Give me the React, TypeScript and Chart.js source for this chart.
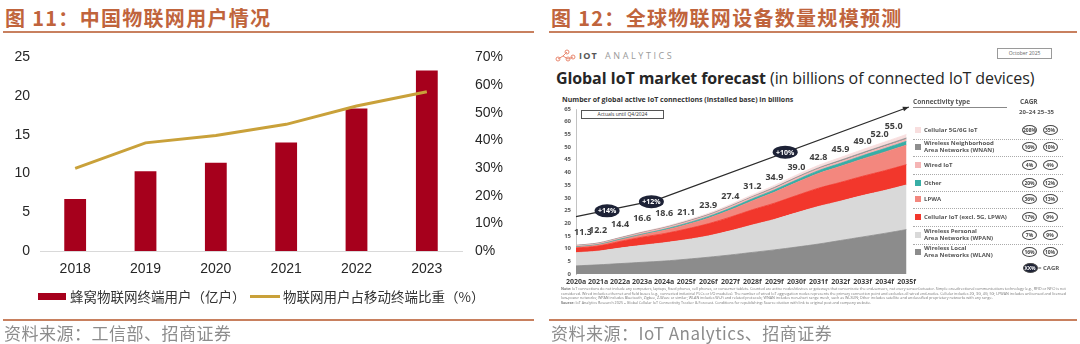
import React, { useEffect, useRef } from "react";
import { Chart, registerables } from "chart.js";

Chart.register(...registerables);

// ---------- Figure 11 data ----------
const years = ["2018", "2019", "2020", "2021", "2022", "2023"];
const cellularUsers = [6.7, 10.3, 11.4, 14.0, 18.4, 23.3];
const iotShare = [29.9, 39.1, 41.8, 45.8, 52.4, 57.6];
const barLegend = "蜂窝物联网终端用户（亿户）";
const lineLegend = "物联网用户占移动终端比重（%）";

// ---------- Figure 12 data ----------
const forecastYears = ["2020a", "2021a", "2022a", "2023a", "2024a", "2025f", "2026f", "2027f", "2028f", "2029f", "2030f", "2031f", "2032f", "2033f", "2034f", "2035f"];
const forecastTotals = [11.3, 12.2, 14.4, 16.6, 18.6, 21.1, 23.9, 27.4, 31.2, 34.9, 39.0, 42.8, 45.9, 49.0, 52.0, 55.0];
const wlan = [3.2, 3.6, 4.1, 4.6, 5.1, 5.8, 6.6, 7.5, 8.5, 9.5, 10.6, 11.8, 13.2, 14.6, 16.0, 17.5];
const wpan = [5.2, 5.4, 6.1, 6.7, 7.2, 7.7, 8.4, 9.5, 10.8, 12.0, 13.5, 14.8, 15.5, 16.3, 16.9, 17.6];
const cellularIot = [1.8, 2.0, 2.6, 3.2, 3.6, 4.2, 4.8, 5.4, 6.0, 6.4, 6.8, 7.2, 7.4, 7.6, 7.8, 8.0];
const lpwa = [0.3, 0.4, 0.6, 0.9, 1.3, 1.7, 2.2, 2.8, 3.5, 4.3, 5.1, 5.8, 6.3, 6.8, 7.3, 7.7];
const other = [0.2, 0.2, 0.3, 0.3, 0.4, 0.5, 0.6, 0.7, 0.8, 0.9, 1.0, 1.1, 1.2, 1.3, 1.4, 1.5];
const wired = [0.4, 0.4, 0.4, 0.5, 0.5, 0.5, 0.5, 0.6, 0.6, 0.6, 0.7, 0.7, 0.7, 0.7, 0.8, 0.8];
const wnan = [0.2, 0.2, 0.2, 0.2, 0.2, 0.3, 0.3, 0.3, 0.3, 0.4, 0.4, 0.4, 0.5, 0.5, 0.5, 0.5];
const cellular5g = [0.01, 0.03, 0.1, 0.2, 0.3, 0.4, 0.5, 0.6, 0.7, 0.8, 0.9, 1.0, 1.1, 1.2, 1.3, 1.4];
const trendPoints = [{ x: 0, y: 22.6 }, { x: 3.6, y: 29.0 }, { x: 15.1, y: 65.8 }];
const cagrBubbles = [
  { x: 1.41, y: 24.9, label: "+14%" },
  { x: 3.42, y: 28.5, label: "+12%" },
  { x: 9.49, y: 48.0, label: "+10%" },
];
const connectivityTypes = [
  "Cellular 5G/6G IoT",
  "Wireless Neighborhood\nArea Networks (WNAN)",
  "Wired IoT",
  "Other",
  "LPWA",
  "Cellular IoT (excl. 5G, LPWA)",
  "Wireless Personal\nArea Networks (WPAN)",
  "Wireless Local\nArea Networks (WLAN)",
];
const cagr2024 = ["208%", "16%", "4%", "20%", "36%", "17%", "7%", "16%"];
const cagr2535 = ["35%", "10%", "4%", "12%", "13%", "9%", "9%", "10%"];

// ---------- styles ----------
const RED = "#a6001c";
const GOLD = "#c9a13a";
const TITLE = "#c0643c";
const RULE = "#c8805f";
const typeColors = ["#f8dede", "#8e8e8e", "#f5b5b5", "#38aea6", "#f3877e", "#f2372c", "#d9d9d9", "#8c8c8c"];
const legendRowY = [130, 147, 165, 183, 199, 217, 235, 252];
const CJK = '"Noto Sans CJK SC", "Noto Sans", sans-serif';
const OS = '"Open Sans", "Noto Sans", sans-serif';

function LeftChart() {
  const ref = useRef<HTMLCanvasElement>(null);
  useEffect(() => {
    const chart = new Chart(ref.current!, {
      type: "bar",
      data: {
        labels: years,
        datasets: [
          {
            type: "line",
            label: lineLegend,
            data: iotShare,
            yAxisID: "y1",
            borderColor: GOLD,
            borderWidth: 3,
            pointRadius: 0,
            tension: 0,
            order: 0,
          } as any,
          {
            type: "bar",
            label: barLegend,
            data: cellularUsers,
            yAxisID: "y",
            backgroundColor: RED,
            barPercentage: 0.31,
            categoryPercentage: 1,
            order: 1,
          },
        ],
      },
      options: {
        responsive: false,
        animation: false,
        layout: { padding: { top: 12, left: 0, right: 0, bottom: 0 } },
        plugins: { legend: { display: false }, tooltip: { enabled: false } },
        scales: {
          x: {
            grid: { display: false, drawTicks: false },
            border: { color: "#d9d9d9", width: 1 },
            ticks: { padding: 10, color: "#262626", font: { family: '"Liberation Sans", Arial', size: 14 } },
            afterFit: (s: any) => { s.height = 37; },
          },
          y: {
            position: "left",
            min: 0,
            max: 25,
            grid: { display: false, drawTicks: false },
            border: { display: false },
            ticks: { stepSize: 5, padding: 10, color: "#262626", font: { family: '"Liberation Sans", Arial', size: 14 } },
            afterFit: (s: any) => { s.width = 40; },
          },
          y1: {
            position: "right",
            min: 0,
            max: 70,
            grid: { display: false, drawTicks: false },
            border: { display: false },
            ticks: {
              stepSize: 10,
              padding: 13,
              color: "#262626",
              font: { family: '"Liberation Sans", Arial', size: 14 },
              callback: (v: any) => v + "%",
            },
            afterFit: (s: any) => { s.width = 78; },
          },
        },
      },
    });
    return () => chart.destroy();
  }, []);
  return <canvas ref={ref} width={540} height={252} style={{ position: "absolute", left: 0, top: 36 }} />;
}

const forecastOverlay = {
  id: "forecastOverlay",
  afterDatasetsDraw(chart: any) {
    const { ctx } = chart;
    const x = chart.scales.x;
    const y = chart.scales.y;
    ctx.save();
    const last = trendPoints[trendPoints.length - 1];
    const prev = trendPoints[trendPoints.length - 2];
    const x1 = x.getPixelForValue(last.x), y1 = y.getPixelForValue(last.y);
    const x0 = x.getPixelForValue(prev.x), y0 = y.getPixelForValue(prev.y);
    const a = Math.atan2(y1 - y0, x1 - x0);
    ctx.fillStyle = "#2b2b2b";
    ctx.beginPath();
    ctx.moveTo(x1, y1);
    ctx.lineTo(x1 - 6 * Math.cos(a) + 2.4 * Math.sin(a), y1 - 6 * Math.sin(a) - 2.4 * Math.cos(a));
    ctx.lineTo(x1 - 6 * Math.cos(a) - 2.4 * Math.sin(a), y1 - 6 * Math.sin(a) + 2.4 * Math.cos(a));
    ctx.closePath();
    ctx.fill();
    for (const b of cagrBubbles) {
      const bx = x.getPixelForValue(b.x), by = y.getPixelForValue(b.y);
      ctx.fillStyle = "#1d2236";
      ctx.beginPath();
      ctx.ellipse(bx, by, 12.5, 6.5, 0, 0, Math.PI * 2);
      ctx.fill();
      ctx.fillStyle = "#ffffff";
      ctx.font = `bold 7px ${OS}`;
      ctx.textAlign = "center";
      ctx.textBaseline = "middle";
      ctx.fillText(b.label, bx, by + 0.5);
    }
    ctx.fillStyle = "#404040";
    ctx.font = `bold 9px ${OS}`;
    ctx.textAlign = "center";
    ctx.textBaseline = "middle";
    forecastTotals.forEach((v, i) => {
      let dx = 0;
      let dy = i < 5 ? -13 : -8;
      if (i === 0) dx = 7;
      if (i === 14) dx = -5;
      if (i === 15) dx = -13;
      ctx.fillText(v.toFixed(1), x.getPixelForValue(i) + dx, y.getPixelForValue(v) + dy);
    });
    ctx.restore();
  },
};

function ForecastChart() {
  const ref = useRef<HTMLCanvasElement>(null);
  useEffect(() => {
    const layers = [wlan, wpan, cellularIot, lpwa, other, wired, wnan, cellular5g];
    const layerColors = [typeColors[7], typeColors[6], typeColors[5], typeColors[4], typeColors[3], typeColors[2], typeColors[1], typeColors[0]];
    const areaSets = layers.map((arr, k) => ({
      type: "line",
      label: "layer" + k,
      data: arr.map((v, i) => ({ x: i, y: v })),
      backgroundColor: layerColors[k],
      borderColor: layerColors[k],
      borderWidth: 0.8,
      pointRadius: 0,
      tension: 0.3,
      fill: k === 0 ? "origin" : "-1",
      stack: "areas",
      order: 1,
    }));
    const chart = new Chart(ref.current!, {
      type: "line",
      data: {
        datasets: [
          ...areaSets,
          {
            type: "line",
            label: "trend",
            data: trendPoints,
            borderColor: "#2b2b2b",
            borderWidth: 1.2,
            pointRadius: 0,
            tension: 0,
            fill: false,
            stack: "trend",
            clip: false,
            order: 0,
          },
        ] as any,
      },
      options: {
        responsive: false,
        animation: false,
        layout: { padding: { top: 9, left: 0, right: 11, bottom: 0 } },
        plugins: { legend: { display: false }, tooltip: { enabled: false } },
        scales: {
          x: {
            type: "linear",
            min: 0,
            max: 15,
            grid: { display: false, drawTicks: false },
            border: { display: false },
            ticks: {
              stepSize: 1,
              autoSkip: false,
              maxRotation: 0,
              padding: 4,
              color: "#404040",
              font: { family: OS, size: 7, weight: "bold" },
              callback: (v: any) => forecastYears[v] ?? "",
            },
            afterFit: (s: any) => { s.height = 16; },
          },
          y: {
            stacked: true,
            min: 0,
            max: 65,
            grid: { display: false, drawTicks: false },
            border: { display: true, color: "#9a9a9a", width: 0.6 },
            ticks: { stepSize: 5, padding: 5, color: "#595959", font: { family: OS, size: 6, weight: "bold" } },
            afterFit: (s: any) => { s.width = 36; },
          },
        },
      },
      plugins: [forecastOverlay],
    });
    return () => chart.destroy();
  }, []);
  return <canvas ref={ref} width={380} height={190} style={{ position: "absolute", left: 540, top: 100 }} />;
}

const abs = (o: React.CSSProperties): React.CSSProperties => ({ position: "absolute", whiteSpace: "nowrap", ...o });

function Ellipse({ cx, cy, text, dark }: { cx: number; cy: number; text: string; dark?: boolean }) {
  return (
    <div
      style={abs({
        left: cx - 7.5,
        top: cy - 5,
        width: 15,
        height: 10,
        boxSizing: "border-box",
        border: "0.9px solid #4a4a4a",
        borderRadius: "50%",
        background: dark ? "#1d2236" : "#fff",
        color: dark ? "#fff" : "#444",
        fontFamily: OS,
        fontWeight: 700,
        fontSize: 5,
        lineHeight: "8px",
        textAlign: "center",
      })}
    >
      {text}
    </div>
  );
}

export default function App() {
  useEffect(() => {
    document.body.style.margin = "0";
  }, []);
  const titleStyle = { fontFamily: CJK, fontWeight: 700, fontSize: 20, lineHeight: "22px", letterSpacing: 1.3, color: TITLE };
  const sourceStyle = { fontFamily: CJK, fontSize: 17, lineHeight: "20px", letterSpacing: 0.5, color: "#8c8c8c" };
  return (
    <div style={{ position: "absolute", left: 0, top: 0, width: 1080, height: 344, background: "#fff", overflow: "hidden" }}>
      {/* ---------- left panel ---------- */}
      <div style={abs({ left: 5, top: 7, ...titleStyle })}>图 11：中国物联网用户情况</div>
      <div style={abs({ left: 3, top: 31, width: 531, height: 2, background: RULE })} />
      <LeftChart />
      <div style={abs({ left: 38, top: 293, width: 28, height: 7, background: RED })} />
      <div style={abs({ left: 70, top: 288, fontFamily: CJK, fontSize: 13.5, lineHeight: "17px", color: "#333" })}>{barLegend}</div>
      <div style={abs({ left: 250, top: 295, width: 30, height: 3, background: GOLD })} />
      <div style={abs({ left: 283, top: 288, fontFamily: CJK, fontSize: 13.5, lineHeight: "17px", color: "#333" })}>{lineLegend}</div>
      <div style={abs({ left: 3, top: 319, width: 531, height: 2, background: RULE })} />
      <div style={abs({ left: 4, top: 323, ...sourceStyle })}>资料来源：工信部、招商证券</div>

      {/* ---------- right panel ---------- */}
      <div style={abs({ left: 551, top: 7, ...titleStyle })}>图 12：全球物联网设备数量规模预测</div>
      <div style={abs({ left: 549, top: 31, width: 528, height: 2, background: RULE })} />

      <svg style={{ position: "absolute", left: 555, top: 49 }} width={22} height={13} viewBox="0 0 22 13">
        <g stroke="#e98a72" strokeWidth={1} fill="none">
          <line x1={3} y1={10} x2={8} y2={7} />
          <line x1={8} y1={7} x2={12} y2={3} />
          <line x1={8} y1={7} x2={13} y2={10} />
          <line x1={13} y1={10} x2={18} y2={8} />
          <circle cx={3} cy={10} r={2} />
          <circle cx={12} cy={3} r={2} />
          <circle cx={13} cy={10} r={2} />
          <circle cx={18} cy={8} r={2} />
        </g>
      </svg>
      <div style={abs({ left: 579, top: 50, fontFamily: OS, fontWeight: 700, fontSize: 9, lineHeight: "11px", letterSpacing: 1.2, color: "#555" })}>IOT</div>
      <div style={abs({ left: 605, top: 50, fontFamily: OS, fontSize: 9, lineHeight: "11px", letterSpacing: 2.6, color: "#9a9a9a" })}>ANALYTICS</div>
      <div style={abs({ left: 997, top: 48, width: 55, height: 11, boxSizing: "border-box", border: "0.8px solid #9a9a9a", fontFamily: OS, fontSize: 5, lineHeight: "9px", textAlign: "center", color: "#666" })}>
        October 2025
      </div>

      <div style={abs({ left: 556, top: 68, fontFamily: OS, fontSize: 16, lineHeight: "20px", color: "#262626", letterSpacing: -0.1 })}>
        <span style={{ fontWeight: 700 }}>Global IoT market forecast</span> (in billions of connected IoT devices)
      </div>
      <div style={abs({ left: 562, top: 95, fontFamily: OS, fontWeight: 700, fontSize: 7, lineHeight: "9px", color: "#333" })}>
        Number of global active IoT connections (installed base) in billions
      </div>

      <ForecastChart />
      <div style={abs({ left: 581, top: 110, width: 83, height: 9, boxSizing: "border-box", border: "0.8px solid #555", background: "#fff", fontFamily: OS, fontSize: 5, lineHeight: "7.5px", textAlign: "center", color: "#333" })}>
        Actuals until Q4/2024
      </div>

      <div style={abs({ left: 913, top: 98, fontFamily: OS, fontWeight: 700, fontSize: 6.5, lineHeight: "8px", color: "#555" })}>Connectivity type</div>
      <div style={abs({ left: 913, top: 106.5, width: 94, height: 0.8, background: "#888" })} />
      <div style={abs({ left: 1020, top: 98, fontFamily: OS, fontWeight: 700, fontSize: 6.5, lineHeight: "8px", color: "#555" })}>CAGR</div>
      <div style={abs({ left: 1019, top: 108, fontFamily: OS, fontWeight: 700, fontSize: 6, lineHeight: "8px", color: "#555" })}>20–24 25–35</div>
      {connectivityTypes.map((t, i) => {
        const cy = legendRowY[i];
        const lines = t.split("\n");
        return (
          <React.Fragment key={t}>
            <div style={abs({ left: 915, top: cy - 3, width: 6, height: 6, background: typeColors[i] })} />
            <div style={abs({ left: 924, top: cy - lines.length * 3.5, fontFamily: OS, fontWeight: 700, fontSize: 6, lineHeight: "7px", color: "#555" })}>
              {lines.map((l) => (
                <div key={l}>{l}</div>
              ))}
            </div>
            <Ellipse cx={1029.5} cy={cy} text={cagr2024[i]} />
            <Ellipse cx={1050} cy={cy} text={cagr2535[i]} />
            {i < connectivityTypes.length - 1 && (
              <div style={abs({ left: 913, top: (cy + legendRowY[i + 1]) / 2, width: 150, height: 0, borderTop: "0.8px dotted #aaa" })} />
            )}
          </React.Fragment>
        );
      })}
      <Ellipse cx={1030} cy={268} text="XX%" dark />
      <div style={abs({ left: 1038, top: 264.5, fontFamily: OS, fontWeight: 700, fontSize: 6, lineHeight: "7px", color: "#555" })}>= CAGR</div>

      <div
        style={{
          position: "absolute",
          left: 561,
          top: 287,
          width: 512,
          fontFamily: OS,
          fontSize: 3.7,
          lineHeight: "4.6px",
          color: "#777",
        }}
      >
        <b>Note:</b> IoT connections do not include any computers, laptops, fixed phones, cell phones, or consumer tablets. Counted are active nodes/devices or gateways that concentrate the end-sensors, not every sensor/actuator. Simple one-directional communications technology (e.g., RFID or NFC) is not considered. Wired includes ethernet and field buses (e.g., connected industrial PLCs or I/O modules). The number of wired IoT aggregation nodes represents the primary connection point and excludes all wired end-nodes. Cellular includes 2G, 3G, 4G, 5G; LPWAN includes unlicensed and licensed low-power networks; WPAN includes Bluetooth, Zigbee, Z-Wave or similar; WLAN includes Wi-Fi and related protocols; WNAN includes non-short range mesh, such as Wi-SUN; Other includes satellite and unclassified proprietary networks with any range.
        <br />
        <b>Source:</b> IoT Analytics Research 2025 – Global Cellular IoT Connectivity Tracker &amp; Forecast. Conditions for republishing: Source citation with link to original post and company website.
      </div>

      <div style={abs({ left: 549, top: 319, width: 528, height: 2, background: RULE })} />
      <div style={abs({ left: 551, top: 323, ...sourceStyle })}>资料来源：IoT Analytics、招商证券</div>
    </div>
  );
}
